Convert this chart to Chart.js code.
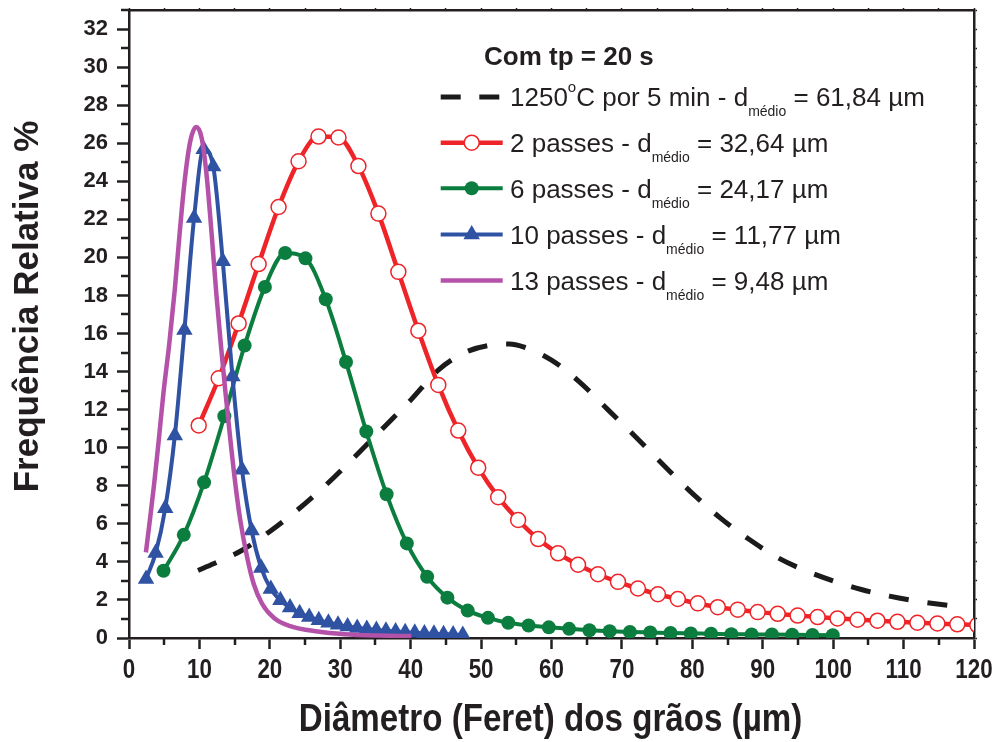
<!DOCTYPE html>
<html>
<head>
<meta charset="utf-8">
<script src="https://cdn.jsdelivr.net/npm/chart.js@4/dist/chart.umd.min.js"></script>
<style>
  html, body { margin: 0; padding: 0; background: #fff; }
  canvas { display: block; }
</style>
</head>
<body>
<canvas id="c" width="996" height="742"></canvas>
<script>
// ---------- data ----------
const xTickLabels = [0, 10, 20, 30, 40, 50, 60, 70, 80, 90, 100, 110, 120];
const yTickLabels = [0, 2, 4, 6, 8, 10, 12, 14, 16, 18, 20, 22, 24, 26, 28, 30, 32];

const blackX = [9.8, 12, 16, 20, 24, 28, 32, 36, 40, 44, 48, 52, 54, 56, 60, 64, 68, 72, 76, 80, 84, 88, 92, 96, 100, 104, 108, 112, 116.6];
const blackY = [3.55, 3.9, 4.6, 5.6, 6.75, 8.05, 9.5, 11.0, 12.5, 14.1, 15.05, 15.42, 15.45, 15.3, 14.6, 13.45, 12.0, 10.55, 9.05, 7.6, 6.3, 5.2, 4.25, 3.55, 3.0, 2.55, 2.2, 1.93, 1.7];

const redX = [9.90, 12.74, 15.57, 18.41, 21.24, 24.08, 26.91, 29.75, 32.58, 35.42, 38.25, 41.09, 43.92, 46.76, 49.59, 52.43, 55.26, 58.10, 60.93, 63.77, 66.60, 69.44, 72.27, 75.11, 77.94, 80.78, 83.61, 86.45, 89.28, 92.12, 94.95, 97.79, 100.62, 103.46, 106.29, 109.13, 111.96, 114.80, 117.63, 120.47];
const redY = [11.17, 13.65, 16.53, 19.65, 22.65, 25.05, 26.35, 26.3, 24.8, 22.3, 19.24, 16.15, 13.3, 10.9, 8.95, 7.4, 6.2, 5.2, 4.45, 3.85, 3.35, 2.95, 2.6, 2.3, 2.05, 1.82, 1.62, 1.49, 1.36, 1.27, 1.18, 1.1, 1.03, 0.96, 0.91, 0.85, 0.8, 0.76, 0.72, 0.68];

const greenX = [4.90, 7.78, 10.66, 13.54, 16.42, 19.30, 22.18, 25.06, 27.94, 30.82, 33.70, 36.58, 39.46, 42.34, 45.22, 48.10, 50.98, 53.86, 56.74, 59.62, 62.50, 65.38, 68.26, 71.14, 74.02, 76.90, 79.78, 82.66, 85.54, 88.42, 91.30, 94.18, 97.06, 99.94];
const greenY = [3.53, 5.42, 8.18, 11.65, 15.37, 18.45, 20.23, 19.95, 17.8, 14.5, 10.85, 7.55, 4.97, 3.22, 2.12, 1.44, 1.06, 0.8, 0.66, 0.56, 0.48, 0.41, 0.36, 0.32, 0.29, 0.26, 0.24, 0.22, 0.2, 0.19, 0.18, 0.17, 0.16, 0.15];

const blueX = [2.42, 3.78, 5.15, 6.51, 7.87, 9.24, 10.60, 11.96, 13.32, 14.69, 16.05, 17.41, 18.78, 20.14, 21.50, 22.87, 24.23, 25.59, 26.95, 28.32, 29.68, 31.04, 32.41, 33.77, 35.13, 36.49, 37.86, 39.22, 40.58, 41.95, 43.31, 44.67, 46.03, 47.40];
const blueY = [3.1, 4.46, 6.82, 10.64, 16.18, 22.07, 25.68, 24.78, 19.8, 13.74, 8.84, 5.65, 3.68, 2.58, 1.98, 1.6, 1.3, 1.1, 0.93, 0.8, 0.7, 0.6, 0.53, 0.47, 0.42, 0.38, 0.34, 0.3, 0.27, 0.24, 0.22, 0.2, 0.18, 0.16];

const magentaX = [2.4, 3.0, 3.6, 4.2, 4.9, 5.7, 6.5, 7.2, 7.9, 8.7, 9.55, 10.3, 11.0, 11.7, 12.4, 13.1, 13.7, 14.4, 15.1, 15.8, 16.8, 17.7, 18.9, 20.6, 22.9, 26.8, 30.6, 35.3, 40.1];
const magentaY = [4.5, 6.3, 8.2, 10.3, 12.9, 15.4, 18.3, 21.3, 24.0, 26.1, 26.85, 26.3, 24.4, 21.4, 18.1, 15.2, 12.9, 10.4, 8.1, 6.2, 4.2, 2.85, 1.8, 1.05, 0.62, 0.34, 0.2, 0.13, 0.1];

const legendTitle = 'Com tp = 20 s';
const legendRows = [
  { pre: '1250', sup: 'o', mid: 'C por 5 min - d', sub: 'médio', post: ' = 61,84 µm' },
  { pre: '2 passes - d', sub: 'médio', post: ' = 32,64 µm' },
  { pre: '6 passes - d', sub: 'médio', post: ' = 24,17 µm' },
  { pre: '10 passes - d', sub: 'médio', post: ' = 11,77 µm' },
  { pre: '13 passes - d', sub: 'médio', post: ' = 9,48 µm' }
];
const xTitle = 'Diâmetro (Feret) dos grãos (µm)';
const yTitle = 'Frequência Relativa %';

// ---------- styles ----------
const INK = '#231F20';
const C_BLACK = '#1b1b1b', C_RED = '#EE2428', C_GREEN = '#0B7D3E', C_BLUE = '#2F52A3', C_MAG = '#B452A9';
const SANS = '"Liberation Sans", Arial, Helvetica, sans-serif';

const pts = (xs, ys) => xs.map((x, i) => ({ x: x, y: ys[i] }));
const clipBox = { left: 20, top: 20, right: 0, bottom: 0 };

const datasets = [
  { label: '13 passes', data: pts(magentaX, magentaY), borderColor: C_MAG, borderWidth: 4.5,
    pointRadius: 0, cubicInterpolationMode: 'monotone', order: 1 },
  { label: '10 passes', data: pts(blueX, blueY), borderColor: C_BLUE, borderWidth: 4,
    pointStyle: 'triangle', pointRadius: 9.5, pointBackgroundColor: C_BLUE, pointBorderColor: C_BLUE, pointBorderWidth: 0,
    cubicInterpolationMode: 'monotone', order: 2 },
  { label: '6 passes', data: pts(greenX, greenY), borderColor: C_GREEN, borderWidth: 4,
    pointStyle: 'circle', pointRadius: 7, pointBackgroundColor: C_GREEN, pointBorderColor: C_GREEN, pointBorderWidth: 0,
    cubicInterpolationMode: 'monotone', order: 3 },
  { label: '2 passes', data: pts(redX, redY), borderColor: C_RED, borderWidth: 4.5,
    pointStyle: 'circle', pointRadius: 7.5, pointBackgroundColor: '#ffffff', pointBorderColor: C_RED, pointBorderWidth: 1.5,
    cubicInterpolationMode: 'monotone', order: 4 },
  { label: '1250C', data: pts(blackX, blackY), borderColor: C_BLACK, borderWidth: 5, borderDash: [20, 19],
    borderCapStyle: 'butt', pointRadius: 0, cubicInterpolationMode: 'monotone', order: 5 }
].map(d => Object.assign(d, { xAxisID: 'x', yAxisID: 'y', fill: false, clip: clipBox, pointHoverRadius: 0 }));

// ---------- plugins ----------
const minorTicksAndXLabels = {
  id: 'minorTicksAndXLabels',
  afterDraw(chart) {
    const ctx = chart.ctx, xs = chart.scales.x, ys = chart.scales.y, a = chart.chartArea;
    ctx.save();
    ctx.strokeStyle = INK; ctx.lineWidth = 2.5; ctx.lineCap = 'butt';
    for (let v = 1; v <= 33; v += 2) {
      const p = Math.round(ys.getPixelForValue(v));
      ctx.beginPath(); ctx.moveTo(a.left, p); ctx.lineTo(a.left - 8, p); ctx.stroke();
    }
    for (let v = 5; v < 120; v += 10) {
      const p = Math.round(xs.getPixelForValue(v));
      ctx.beginPath(); ctx.moveTo(p, a.bottom); ctx.lineTo(p, a.bottom + 7); ctx.stroke();
    }
    // condensed bold x tick labels, placed by the x scale
    ctx.fillStyle = INK; ctx.textAlign = 'center'; ctx.textBaseline = 'alphabetic';
    ctx.font = 'bold 28px ' + SANS;
    xTickLabels.forEach(v => {
      const p = xs.getPixelForValue(v);
      ctx.save(); ctx.translate(p, 678.3); ctx.scale(0.8, 1);
      ctx.fillText(String(v), 0, 0);
      ctx.restore();
    });
    ctx.restore();
  }
};

function richText(ctx, x, y, parts) {
  for (const p of parts) {
    ctx.font = (p.w || 'normal') + ' ' + p.s + 'px ' + SANS;
    ctx.fillText(p.t, x, y + (p.dy || 0));
    x += ctx.measureText(p.t).width;
  }
  return x;
}

function drawMarker(ctx, kind, x, y) {
  ctx.save();
  if (kind === 'open') {
    ctx.beginPath(); ctx.arc(x, y, 7.5, 0, Math.PI * 2);
    ctx.fillStyle = '#fff'; ctx.fill(); ctx.lineWidth = 1.5; ctx.strokeStyle = C_RED; ctx.stroke();
  } else if (kind === 'dot') {
    ctx.beginPath(); ctx.arc(x, y, 7, 0, Math.PI * 2); ctx.fillStyle = C_GREEN; ctx.fill();
  } else if (kind === 'tri') {
    const r = 9.5; ctx.beginPath();
    for (let k = 0; k < 3; k++) {
      const ang = k * 2 * Math.PI / 3;
      const px = x + Math.sin(ang) * r, py = y - Math.cos(ang) * r;
      if (k === 0) ctx.moveTo(px, py); else ctx.lineTo(px, py);
    }
    ctx.closePath(); ctx.fillStyle = C_BLUE; ctx.fill();
  }
  ctx.restore();
}

const legendAndTitles = {
  id: 'legendAndTitles',
  afterDraw(chart) {
    const ctx = chart.ctx;
    ctx.save();
    ctx.fillStyle = INK; ctx.textAlign = 'left'; ctx.textBaseline = 'alphabetic';
    ctx.font = 'bold 26px ' + SANS;
    ctx.fillText(legendTitle, 484, 65);
    const rowY = [97, 142.7, 188.3, 234.5, 280.5];
    const styles = [
      { c: C_BLACK, w: 5, dash: [20, 18.6], m: null },
      { c: C_RED, w: 4.5, m: 'open' },
      { c: C_GREEN, w: 4, m: 'dot' },
      { c: C_BLUE, w: 4, m: 'tri' },
      { c: C_MAG, w: 4.5, m: null }
    ];
    const x0 = 440.7, x1 = 502.7, xm = 471.7;
    legendRows.forEach((r, i) => {
      const y = rowY[i], st = styles[i];
      ctx.save();
      ctx.strokeStyle = st.c; ctx.lineWidth = st.w; ctx.lineCap = 'butt';
      if (st.dash) ctx.setLineDash(st.dash);
      ctx.beginPath(); ctx.moveTo(x0, y); ctx.lineTo(st.dash ? 500 : x1, y); ctx.stroke();
      ctx.restore();
      if (st.m) drawMarker(ctx, st.m, xm, y);
      ctx.fillStyle = INK;
      const base = y + 9.3;
      const parts = [{ t: r.pre, s: 26 }];
      if (r.sup) { parts.push({ t: r.sup, s: 15, dy: -14 }); parts.push({ t: r.mid, s: 26 }); }
      parts.push({ t: r.sub, s: 14, dy: 10 });
      parts.push({ t: r.post, s: 26 });
      richText(ctx, 510, base, parts);
    });
    // axis titles
    ctx.fillStyle = INK;
    ctx.textAlign = 'center';
    ctx.save();
    ctx.translate(550.5, 731);
    ctx.scale(0.85, 1);
    ctx.font = 'bold 39px ' + SANS;
    ctx.fillText(xTitle, 0, 0);
    ctx.restore();
    ctx.save();
    ctx.translate(38, 306.5);
    ctx.rotate(-Math.PI / 2);
    ctx.font = 'bold 35px ' + SANS;
    ctx.fillText(yTitle, 0, 0);
    ctx.restore();
    ctx.restore();
  }
};

// ---------- chart ----------
const border = { display: true, width: 2.5, color: INK };
const noPadH = s => { s.paddingLeft = 0; s.paddingRight = 0; };
const noPadV = s => { s.paddingTop = 0; s.paddingBottom = 0; };
new Chart(document.getElementById('c').getContext('2d'), {
  type: 'line',
  data: { datasets: datasets },
  options: {
    responsive: false,
    animation: false,
    devicePixelRatio: 1,
    layout: { padding: 0 },
    events: [],
    plugins: { legend: { display: false }, tooltip: { enabled: false }, title: { display: false } },
    scales: {
      x: {
        type: 'linear', position: 'bottom', min: 0, max: 120,
        afterBuildTicks: s => { s.ticks = xTickLabels.map(v => ({ value: v })); },
        ticks: { display: false },
        grid: { display: true, drawOnChartArea: false, drawTicks: true, tickLength: 11, tickWidth: 2.5, tickColor: INK },
        border: border,
        afterFit: s => { s.height = 104; noPadH(s); }
      },
      x2: {
        type: 'linear', position: 'top', min: 0, max: 120,
        ticks: { stepSize: 5, display: false },
        grid: { display: true, drawOnChartArea: false, drawTicks: true, tickLength: 2, tickWidth: 1.5, tickColor: INK },
        border: border,
        afterFit: s => { s.height = 10; noPadH(s); }
      },
      y: {
        type: 'linear', position: 'left', min: 0, max: 33,
        afterBuildTicks: s => { s.ticks = yTickLabels.map(v => ({ value: v })); },
        ticks: { color: INK, padding: 9, font: { family: SANS, weight: 'bold', size: 22 } },
        grid: { display: true, drawOnChartArea: false, drawTicks: true, tickLength: 12, tickWidth: 2.5, tickColor: INK },
        border: border,
        afterFit: s => { s.width = 129; noPadV(s); }
      },
      y2: {
        type: 'linear', position: 'right', min: 0, max: 33,
        ticks: { stepSize: 1, display: false },
        grid: { display: true, drawOnChartArea: false, drawTicks: true, tickLength: 3, tickWidth: 1.5, tickColor: INK },
        border: border,
        afterFit: s => { s.width = 22; noPadV(s); }
      }
    }
  },
  plugins: [minorTicksAndXLabels, legendAndTitles]
});
</script>
</body>
</html>
